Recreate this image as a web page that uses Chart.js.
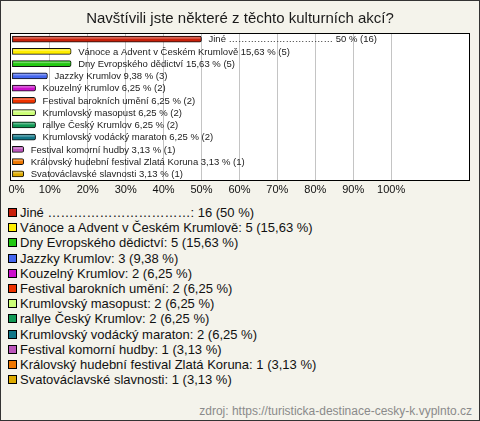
<!DOCTYPE html>
<html>
<head>
<meta charset="utf-8">
<script src="https://cdn.jsdelivr.net/npm/chart.js@4/dist/chart.umd.min.js"></script>
<style>
    body { margin: 0; background: #f4f3eb; }
    #wrap { position: relative; width: 478px; height: 419px; border: 1px solid #333; background: #f4f3eb; font-family: Arial, "Liberation Sans", sans-serif; overflow: hidden; }
    #chart { position: absolute; left: 0; top: 0; }
    #legend { position: absolute; left: 7px; top: 204px; font-size: 13px; color: #111; }
    .item { height: 15.2px; display: flex; align-items: center; white-space: nowrap; }
    .sw { width: 7px; height: 7px; border: 1px solid #000; margin-right: 3px; flex: none; }
    #src { position: absolute; right: 7px; top: 403px; font-size: 12px; line-height: 14px; color: #8a8a8a; }
</style>
</head>
<body>
<div id="wrap">
    <canvas id="chart" width="478" height="200"></canvas>
    <div id="legend"></div>
    <div id="src">zdroj: https://turisticka-destinace-cesky-k.vyplnto.cz</div>
</div>
<script>
var categories = [
    'Jiné ……………………………',
    'Vánoce a Advent v Českém Krumlově',
    'Dny Evropského dědictví',
    'Jazzky Krumlov',
    'Kouzelný Krumlov',
    'Festival barokních umění',
    'Krumlovský masopust',
    'rallye Český Krumlov',
    'Krumlovský vodácký maraton',
    'Festival komorní hudby',
    'Královský hudební festival Zlatá Koruna',
    'Svatováclavské slavnosti'
];
var counts = [16, 5, 5, 3, 2, 2, 2, 2, 2, 1, 1, 1];
var percents = [50, 15.63, 15.63, 9.38, 6.25, 6.25, 6.25, 6.25, 6.25, 3.13, 3.13, 3.13];
var colors = ['#c8200a', '#ffee00', '#22c811', '#4466ee', '#cc11cc', '#ee3300',
              '#ccff77', '#119955', '#117788', '#bb55bb', '#ee7700', '#ddaa00'];
var tickValues = [0, 10, 20, 30, 40, 50, 60, 70, 80, 90, 100];

function fmt(v) {
    return String(v).replace('.', ',');
}

// legend as plain html
var legend = document.getElementById('legend');
categories.forEach(function(c, i) {
    legend.innerHTML += '<div class="item"><span class="sw" style="background:' + colors[i] + '"></span>' +
        c + ': ' + counts[i] + ' (' + fmt(percents[i]) + ' %)</div>';
});

var plotBox = {
    id: 'plotBox',
    beforeDraw: function(chart) {
        var a = chart.chartArea, ctx = chart.ctx;
        ctx.save();
        ctx.fillStyle = '#ffffff';
        ctx.fillRect(a.left, a.top, a.right - a.left, a.bottom - a.top);
        ctx.restore();
    },
    afterDatasetsDraw: function(chart) {
        var a = chart.chartArea, ctx = chart.ctx;
        var meta = chart.getDatasetMeta(0);
        ctx.save();
        meta.data.forEach(function(bar, i) {
            // light strip on top for the 3d look
            ctx.fillStyle = 'rgba(255,255,255,0.35)';
            ctx.fillRect(bar.base + 1, bar.y - bar.height / 2 + 1, bar.x - bar.base - 2, 1.5);
            ctx.fillStyle = '#222';
            ctx.font = '9.5px Arial, "Liberation Sans", sans-serif';
            ctx.textBaseline = 'middle';
            ctx.fillText(categories[i] + ' ' + fmt(percents[i]) + ' % (' + counts[i] + ')', bar.x + 7, bar.y + 0.5);
        });
        ctx.strokeStyle = '#000';
        ctx.lineWidth = 1;
        ctx.strokeRect(Math.round(a.left) + 0.5, Math.round(a.top) + 0.5, Math.round(a.right - a.left) - 1, Math.round(a.bottom - a.top));
        ctx.restore();
    }
};

var ctx = document.getElementById('chart').getContext('2d');
var chart = new Chart(ctx, {
    type: 'bar',
    data: {
        labels: categories,
        datasets: [{
            data: percents,
            backgroundColor: colors,
            borderColor: '#111',
            borderWidth: 1,
            borderSkipped: false,
            borderRadius: { topRight: 2, bottomRight: 2 },
            barThickness: 6
        }]
    },
    options: {
        indexAxis: 'y',
        responsive: false,
        animation: false,
        layout: { padding: { left: 9, right: 9, top: 0, bottom: 0 } },
        plugins: {
            legend: { display: false },
            tooltip: { enabled: false },
            title: {
                display: true,
                text: 'Navštívili jste některé z těchto kulturních akcí?',
                color: '#1a1a1a',
                font: { family: 'Arial, "Liberation Sans", sans-serif', size: 15, weight: 'normal' },
                padding: { top: 9, bottom: 5 }
            }
        },
        scales: {
            x: {
                min: -0.5,
                max: 120.8,
                afterBuildTicks: function(scale) {
                    scale.ticks = tickValues.map(function(v) { return { value: v }; });
                },
                afterFit: function(scale) {
                    scale.height = 21;
                    scale.paddingLeft = 0;
                    scale.paddingRight = 0;
                },
                ticks: {
                    color: '#111',
                    padding: 3.5,
                    font: { family: 'Arial, "Liberation Sans", sans-serif', size: 11 },
                    callback: function(v) { return v === 0 ? '   0%' : v + '%'; }
                },
                grid: {
                    drawTicks: false,
                    color: function(c) { return c.tick && c.tick.value > 0 ? '#c4c4c4' : 'rgba(0,0,0,0)'; }
                },
                border: { display: false }
            },
            y: {
                display: false,
                grid: { display: false }
            }
        }
    },
    plugins: [plotBox]
});
</script>
</body>
</html>
